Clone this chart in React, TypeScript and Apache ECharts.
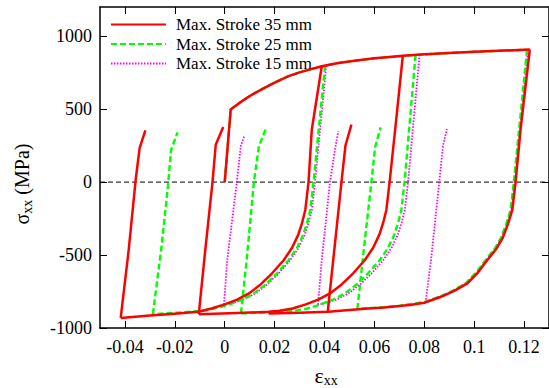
import React, { useEffect, useRef } from 'react';
import * as echarts from 'echarts';

const FONT = 'Liberation Serif, serif';

const NAME_35 = 'Max. Stroke 35 mm';
const NAME_25 = 'Max. Stroke 25 mm';
const NAME_15 = 'Max. Stroke 15 mm';

const X_TICKS = [-0.04, -0.02, 0, 0.02, 0.04, 0.06, 0.08, 0.1, 0.12];
const Y_TICKS = [-1000, -500, 0, 500, 1000];

// ---- Max. stroke 35 mm: strain [-], stress [MPa] ----
const s35Loading = [
  [0, 0], [0.0024, 497], [0.004, 518], [0.006, 543], [0.008, 567], [0.011, 600], [0.015, 637],
  [0.02, 682], [0.0256, 726], [0.03, 752], [0.035, 776], [0.0389, 794], [0.045, 815],
  [0.052, 831], [0.06, 848], [0.066, 858], [0.0714, 866], [0.08, 876], [0.092, 887], [0.1, 893],
  [0.11, 900], [0.1223, 908],
];
const s35Unload1 = [
  [0.0389, 794], [0.0349, 359], [0.0336, 0], [0.0323, -191], [0.031, -280], [0.0295, -360],
  [0.027, -450], [0.0237, -534], [0.019, -625], [0.0145, -700], [0.0097, -763], [0.005, -805],
  [0.0, -838], [-0.0053, -866], [-0.0106, -889], [-0.02, -902], [-0.03, -915], [-0.0417, -931],
];
const s35Reload1 = [[-0.0417, -931], [-0.0385, -466], [-0.0357, 16], [-0.0341, 234], [-0.0318, 355]];
const s35Unload2 = [
  [0.0714, 866], [0.069, 470], [0.0661, 0], [0.0648, -191], [0.0635, -280], [0.062, -360],
  [0.0595, -450], [0.0562, -534], [0.0515, -625], [0.047, -700], [0.0422, -763], [0.0375, -805],
  [0.0325, -838], [0.0272, -866], [0.022, -882], [0.0176, -889], [0.005, -898], [-0.0104, -905],
];
const s35Reload2 = [[-0.0104, -905], [-0.0078, -466], [-0.0049, 0], [-0.0036, 256], [-0.0006, 378]];
const s35Unload3 = [
  [0.1223, 908], [0.1186, 359], [0.1166, 0], [0.1153, -190], [0.1135, -290], [0.1115, -380],
  [0.109, -455], [0.1053, -534], [0.1015, -620], [0.0973, -694], [0.092, -745], [0.0867, -786],
  [0.08, -827], [0.075, -840], [0.07, -850], [0.064, -859], [0.0575, -866], [0.05, -877],
  [0.0416, -889], [0.03, -895], [0.0176, -900],
];
const s35Reload3 = [[0.0413, -889], [0.0435, -534], [0.0468, 0], [0.0484, 250], [0.0508, 394]];

// ---- Max. stroke 25 mm ----
const s25Loading = [
  [0, 0], [0.0024, 497], [0.004, 518], [0.006, 543], [0.008, 567], [0.011, 600], [0.015, 637],
  [0.02, 682], [0.0256, 726], [0.03, 752], [0.035, 776], [0.0402, 797], [0.045, 815],
  [0.052, 831], [0.06, 848], [0.0765, 871], [0.092, 887], [0.1, 893], [0.11, 900],
  [0.1212, 906],
];
const s25Unload1 = [
  [0.0402, 797], [0.0356, 0], [0.0343, -191], [0.033, -280], [0.0315, -360], [0.029, -450],
  [0.0257, -534], [0.021, -625], [0.0165, -700], [0.0117, -763], [0.007, -805], [0.002, -838],
  [-0.0033, -864], [-0.0086, -882], [-0.02, -896], [-0.0288, -905],
];
const s25Reload1 = [[-0.0288, -905], [-0.0255, -466], [-0.0229, -53], [-0.0215, 221], [-0.0189, 341]];
const s25Unload2 = [
  [0.0765, 871], [0.0721, 0], [0.0708, -191], [0.0695, -280], [0.068, -360], [0.0655, -450],
  [0.0622, -534], [0.0575, -625], [0.053, -700], [0.0482, -763], [0.0435, -805], [0.0385, -838],
  [0.0332, -866], [0.028, -882], [0.02, -892], [0.0065, -900],
];
const s25Reload2 = [[0.0065, -900], [0.0088, -534], [0.0117, 0], [0.0137, 245], [0.0165, 365]];
const s25Unload3 = [
  [0.1212, 906], [0.1159, 0], [0.1146, -190], [0.1128, -290], [0.1108, -380], [0.1083, -455],
  [0.1046, -534], [0.1008, -620], [0.0966, -694], [0.0913, -745], [0.086, -786], [0.08, -822],
  [0.07, -848], [0.06, -862], [0.0532, -868],
];
const s25Reload3 = [[0.0532, -868], [0.0553, -534], [0.0588, 0], [0.0603, 240], [0.0625, 375]];

// ---- Max. stroke 15 mm ----
const s15Loading = [
  [0, 0], [0.0024, 497], [0.004, 518], [0.006, 543], [0.008, 567], [0.011, 600], [0.015, 637],
  [0.02, 682], [0.0256, 726], [0.03, 752], [0.035, 776], [0.0407, 798], [0.045, 815],
  [0.052, 831], [0.06, 848], [0.0781, 873], [0.092, 887], [0.1, 893], [0.11, 900],
  [0.1216, 907],
];
const s15Unload1 = [
  [0.0407, 798], [0.0362, 0], [0.0349, -191], [0.0336, -280], [0.0321, -360], [0.0296, -450],
  [0.0263, -534], [0.0216, -625], [0.0171, -700], [0.0123, -763], [0.0076, -805], [0.0026, -830],
  [-0.0003, -840],
];
const s15Reload1 = [[-0.0003, -840], [0.001, -534], [0.0045, -50], [0.006, 180], [0.0065, 250], [0.0078, 313]];
const s15Unload2 = [
  [0.0781, 873], [0.0735, 0], [0.0722, -191], [0.0709, -280], [0.0694, -360], [0.0669, -450],
  [0.0636, -534], [0.0589, -625], [0.0544, -700], [0.0496, -763], [0.0449, -805], [0.0399, -830],
  [0.0374, -840],
];
const s15Reload2 = [[0.0374, -840], [0.0389, -534], [0.0422, 0], [0.0442, 222], [0.0455, 348]];
const s15Unload3 = [
  [0.1216, 907], [0.1162, 0], [0.1149, -190], [0.1131, -290], [0.1111, -380], [0.1086, -455],
  [0.1049, -534], [0.1011, -620], [0.0969, -694], [0.0916, -745], [0.0863, -786], [0.0805, -826],
];
const s15Reload3 = [[0.0805, -826], [0.0827, -534], [0.086, 0], [0.0875, 250], [0.0891, 364]];

const X_MIN = -0.05;
const X_MAX = 0.13;
const Y_MIN = -1000;
const Y_MAX = 1200;

type Seg = number[][];

function branchSeries(name: string, color: string, width: number, dash: any, segs: Seg[], z: number) {
  return segs.map((seg) => ({
    type: 'line',
    name,
    data: seg,
    symbol: 'none',
    showSymbol: false,
    silent: true,
    z,
    color,
    lineStyle: { color, width, type: dash, cap: 'butt', join: 'round' },
    itemStyle: { color },
  }));
}

export default function App() {
  const ref = useRef<HTMLDivElement>(null);

  useEffect(() => {
    if (!ref.current) return;
    const chart = echarts.init(ref.current, undefined, { renderer: 'svg' });

    const axisLine = { show: true, onZero: false, lineStyle: { color: '#000', width: 1.5 } };
    const tickStyle = { color: '#000', width: 1 };

    const option: any = {
      animation: false,
      backgroundColor: '#fff',
      grid: { left: 100, top: 7, right: -3, bottom: 60, containLabel: false },
      xAxis: [
        {
          type: 'value', position: 'bottom', min: X_MIN, max: X_MAX,
          axisLine,
          axisTick: { show: true, inside: true, length: 7, customValues: X_TICKS, lineStyle: tickStyle },
          axisLabel: {
            show: true, customValues: X_TICKS, margin: 10, color: '#000', fontSize: 18, fontFamily: FONT,
            formatter: (v: number) => String(Math.round(v * 100) / 100),
          },
          splitLine: { show: false },
        },
        {
          type: 'value', position: 'top', min: X_MIN, max: X_MAX,
          axisLine,
          axisTick: { show: true, inside: true, length: 7, customValues: X_TICKS, lineStyle: tickStyle },
          axisLabel: { show: false },
          splitLine: { show: false },
        },
      ],
      yAxis: [
        {
          type: 'value', position: 'left', min: Y_MIN, max: Y_MAX,
          axisLine,
          axisTick: { show: true, inside: true, length: 7, customValues: Y_TICKS, lineStyle: tickStyle },
          axisLabel: {
            show: true, customValues: Y_TICKS, margin: 8, color: '#000', fontSize: 18, fontFamily: FONT,
            formatter: (v: number) => String(v),
          },
          splitLine: { show: false },
        },
        {
          type: 'value', position: 'right', min: Y_MIN, max: Y_MAX,
          axisLine,
          axisTick: { show: true, inside: true, length: 7, customValues: Y_TICKS, lineStyle: tickStyle },
          axisLabel: { show: false },
          splitLine: { show: false },
        },
      ],
      legend: {
        data: [NAME_35, NAME_25, NAME_15],
        orient: 'vertical',
        left: 110,
        top: 16,
        padding: 0,
        itemWidth: 55,
        itemHeight: 12,
        itemGap: 2.5,
        selectedMode: false,
        itemStyle: { opacity: 0 },
        textStyle: { fontSize: 17, lineHeight: 16, fontFamily: FONT, color: '#000', padding: [0, 0, 0, 5] },
      },
      graphic: [
        {
          type: 'text', x: 22, y: 184, rotation: Math.PI / 2,
          style: {
            text: 'σ{s|xx} (MPa)',
            fontSize: 20, fontFamily: FONT, fill: '#000', align: 'center', verticalAlign: 'middle',
            rich: { s: { fontSize: 14, fontFamily: FONT, fill: '#000', padding: [10, 0, 0, 0] } },
          },
        },
        {
          type: 'text', x: 326, y: 375,
          style: {
            text: 'ε{s|xx}',
            fontSize: 22, fontFamily: FONT, fill: '#000', align: 'center', verticalAlign: 'middle',
            rich: { s: { fontSize: 14, fontFamily: FONT, fill: '#000', padding: [10, 0, 0, 0] } },
          },
        },
      ],
      series: [
        {
          type: 'line',
          data: [[X_MIN, 0], [X_MAX, 0]],
          symbol: 'none',
          silent: true,
          z: 1,
          lineStyle: { color: '#000', width: 1, type: [5, 3] },
        },
        ...branchSeries(NAME_15, '#ff00ff', 1.8, [1.5, 1.5],
          [s15Loading, s15Unload1, s15Reload1, s15Unload2, s15Reload2, s15Unload3, s15Reload3], 2),
        ...branchSeries(NAME_25, '#00ff00', 2.4, [6, 3],
          [s25Loading, s25Unload1, s25Reload1, s25Unload2, s25Reload2, s25Unload3, s25Reload3], 3),
        ...branchSeries(NAME_35, '#ff0000', 2.5, 'solid',
          [s35Loading, s35Unload1, s35Reload1, s35Unload2, s35Reload2, s35Unload3, s35Reload3], 4),
      ],
    };

    chart.setOption(option);
    return () => chart.dispose();
  }, []);

  return (
    <div style={{ position: 'fixed', left: 0, top: 0, width: 549, height: 388, background: '#fff' }}>
      <div ref={ref} style={{ width: 549, height: 388 }} />
    </div>
  );
}
